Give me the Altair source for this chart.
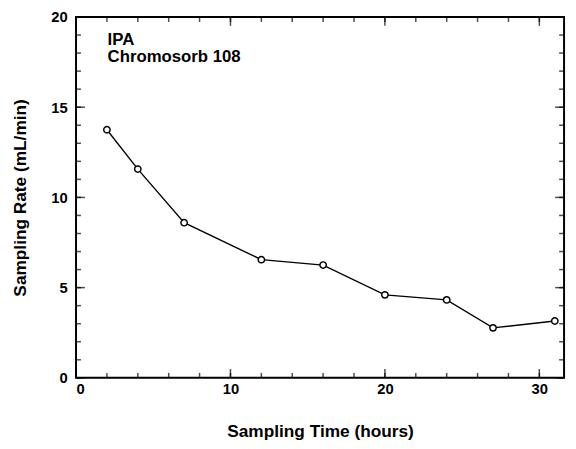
import altair as alt
import pandas as pd

hours = [2, 4, 7, 12, 16, 20, 24, 27, 31]
rate = [13.75, 11.57, 8.6, 6.55, 6.25, 4.6, 4.32, 2.77, 3.15]
labels_text = ["IPA", "Chromosorb 108"]

x_major = [0, 10, 20, 30]
x_minor = list(range(0, 32, 2))
y_major = [0, 5, 10, 15, 20]
y_minor = list(range(0, 21, 1))

df = pd.DataFrame({"hours": hours, "rate": rate})

FONT = "Liberation Sans"
xscale = alt.Scale(domain=[0, 31.6], nice=False)
yscale = alt.Scale(domain=[0, 20], nice=False)

xaxis = alt.Axis(orient="bottom", values=x_major, ticks=False, tickSize=0,
                 domain=False, grid=False, labelPadding=4, titlePadding=26,
                 title="Sampling Time (hours)")
yaxis = alt.Axis(orient="left", values=y_major, ticks=False, tickSize=0,
                 domain=False, grid=False, labelPadding=9, titlePadding=22,
                 title="Sampling Rate (mL/min)")

X = alt.X("hours:Q", scale=xscale, axis=xaxis)
Y = alt.Y("rate:Q", scale=yscale, axis=yaxis)

line = alt.Chart(df).mark_line(color="black", strokeWidth=1.4).encode(x=X, y=Y)
pts = alt.Chart(df).mark_point(shape="circle", size=42, filled=False, fill="white",
                               fillOpacity=1, color="black",
                               strokeWidth=1.5).encode(x=X, y=Y)


def xticks(vals, length, top):
    return alt.Chart(pd.DataFrame({"hours": vals})).mark_tick(
        color="black", size=length, thickness=1.5,
        yOffset=(length / 2 if top else -length / 2)).encode(
        x=X, y=alt.value(0 if top else "height"))


def yticks(vals, length, right):
    return alt.Chart(pd.DataFrame({"rate": vals})).mark_tick(
        color="black", size=length, thickness=1.5,
        xOffset=(-length / 2 if right else length / 2)).encode(
        y=Y, x=alt.value("width" if right else 0))


tick_layers = [
    xticks(x_minor, 5, False), xticks(x_major, 9, False),
    xticks(x_minor, 5, True), xticks(x_major, 9, True),
    yticks(y_minor, 5, False), yticks(y_major, 9, False),
    yticks(y_minor, 5, True), yticks(y_major, 9, True),
]

t1 = alt.Chart(pd.DataFrame({"t": [labels_text[0]]})).mark_text(
    align="left", baseline="alphabetic", font=FONT, fontSize=17,
    fontWeight="bold", color="black").encode(
    x=alt.value(32), y=alt.value(28), text="t:N")
t2 = alt.Chart(pd.DataFrame({"t": [labels_text[1]]})).mark_text(
    align="left", baseline="alphabetic", font=FONT, fontSize=17,
    fontWeight="bold", color="black").encode(
    x=alt.value(32), y=alt.value(46), text="t:N")

chart = alt.layer(line, *tick_layers, pts, t1, t2).properties(
    width=495, height=366,
    autosize=alt.AutoSizeParams(type="none"),
    padding={"left": 69, "top": 6, "right": 4, "bottom": 65},
).configure_view(
    stroke="black", strokeWidth=2
).configure_axis(
    labelFont=FONT, labelFontSize=15, labelFontWeight="bold", labelColor="black",
    titleFont=FONT, titleFontSize=17.5, titleFontWeight="bold", titleColor="black",
)

chart.save("out.html", embed_options={"renderer": "svg", "actions": False})
